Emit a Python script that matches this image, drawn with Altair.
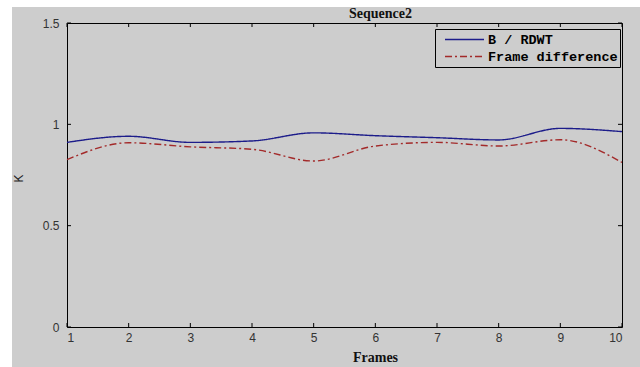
import altair as alt
import pandas as pd

frames = [1, 2, 3, 4, 5, 6, 7, 8, 9, 10]
b_rdwt = [0.911, 0.941, 0.911, 0.918, 0.958, 0.944, 0.934, 0.923, 0.980, 0.964]
frame_diff = [0.826, 0.909, 0.889, 0.877, 0.819, 0.893, 0.911, 0.893, 0.924, 0.812]
series_names = ["B / RDWT", "Frame difference"]
x_ticks = [1, 2, 3, 4, 5, 6, 7, 8, 9, 10]
y_ticks = [0, 0.5, 1, 1.5]

BG = "#cdcdcd"
BLUE = "#1c1c8a"
RED = "#a32a2a"

rows = []
for f, b, d in zip(frames, b_rdwt, frame_diff):
    rows.append({"frame": f, "K": b, "series": series_names[0]})
    rows.append({"frame": f, "K": d, "series": series_names[1]})
df = pd.DataFrame(rows)

W, H = 555, 304
xscale = alt.Scale(domain=[1, 10], nice=False, zero=False)
yscale = alt.Scale(domain=[0, 1.5], nice=False)

# thin white border strips of the figure (left and top)
one = pd.DataFrame({"a": [0]})
strip_left = alt.Chart(one).mark_rect(color="white").encode(
    x=alt.value(-67), x2=alt.value(-55), y=alt.value(-23), y2=alt.value(H + 40))
strip_top = alt.Chart(one).mark_rect(color="white").encode(
    x=alt.value(-67), x2=alt.value(W + 18), y=alt.value(-23), y2=alt.value(-16))

lines = alt.Chart(df).mark_line(strokeWidth=1.4, interpolate="monotone").encode(
    x=alt.X("frame:Q", scale=xscale,
            axis=alt.Axis(values=x_ticks, format="d", title="Frames", ticks=False,
                          labelPadding=5, titleX=308, titleY=30, titleBaseline="middle",
                          titleFont="Liberation Serif", titleFontWeight="bold", titleFontSize=14,
                          titleColor="#111")),
    y=alt.Y("K:Q", scale=yscale,
            axis=alt.Axis(values=y_ticks, title="K", ticks=False, labelPadding=8,
                          format="~g",
                          titleX=-49, titleY=155, titleAngle=-90, titleAlign="center",
                          titleBaseline="middle", titleFontWeight="normal", titleFontSize=12,
                          titleFont="Liberation Sans", titleColor="#222")),
    color=alt.Color("series:N", scale=alt.Scale(domain=series_names, range=[BLUE, RED]),
                    legend=alt.Legend(title=None, orient="none", legendX=368, legendY=6,
                                      strokeColor="black", fillColor=BG, padding=2,
                                      clipHeight=17, rowPadding=0,
                                      symbolType="stroke", symbolSize=1521, symbolStrokeWidth=1.4,
                                      symbolOffset=7,
                                      labelFont="Liberation Mono", labelFontWeight="bold",
                                      labelFontSize=13.5, labelColor="black", labelOffset=3,
                                      labelLimit=300)),
    strokeDash=alt.StrokeDash("series:N",
                              scale=alt.Scale(domain=series_names, range=[[1, 0], [7, 3, 2, 3]]),
                              legend=None),
)

tx = pd.DataFrame({"frame": x_ticks})
ty = pd.DataFrame({"K": y_ticks})
tick_len_y = 4 / H * 1.5
tick_len_x = 4 / W * 9

xt_bot = alt.Chart(tx).mark_rule(color="black").encode(
    x=alt.X("frame:Q", scale=xscale), y=alt.datum(0, scale=yscale), y2=alt.datum(tick_len_y))
xt_top = alt.Chart(tx).mark_rule(color="black").encode(
    x=alt.X("frame:Q", scale=xscale), y=alt.datum(1.5, scale=yscale), y2=alt.datum(1.5 - tick_len_y))
yt_left = alt.Chart(ty).mark_rule(color="black").encode(
    y=alt.Y("K:Q", scale=yscale), x=alt.datum(1, scale=xscale), x2=alt.datum(1 + tick_len_x))
yt_right = alt.Chart(ty).mark_rule(color="black").encode(
    y=alt.Y("K:Q", scale=yscale), x=alt.datum(10, scale=xscale), x2=alt.datum(10 - tick_len_x))

chart = alt.layer(strip_left, strip_top, xt_bot, xt_top, yt_left, yt_right, lines).properties(
    width=W, height=H,
    title=alt.TitleParams("Sequence2", font="Liberation Serif", fontWeight="bold", fontSize=14,
                          color="#111", anchor="middle", dx=36, dy=24, offset=3),
    autosize=alt.AutoSizeParams(type="none"),
    padding={"left": 67, "top": 23, "right": 18, "bottom": 40},
    background=BG,
).configure_view(stroke="black", strokeWidth=1).configure_axis(
    grid=False, domain=False, labelFont="Liberation Sans", labelFontSize=12, labelColor="#333"
)

chart.save("out.html", embed_options={"renderer": "svg", "actions": False})
